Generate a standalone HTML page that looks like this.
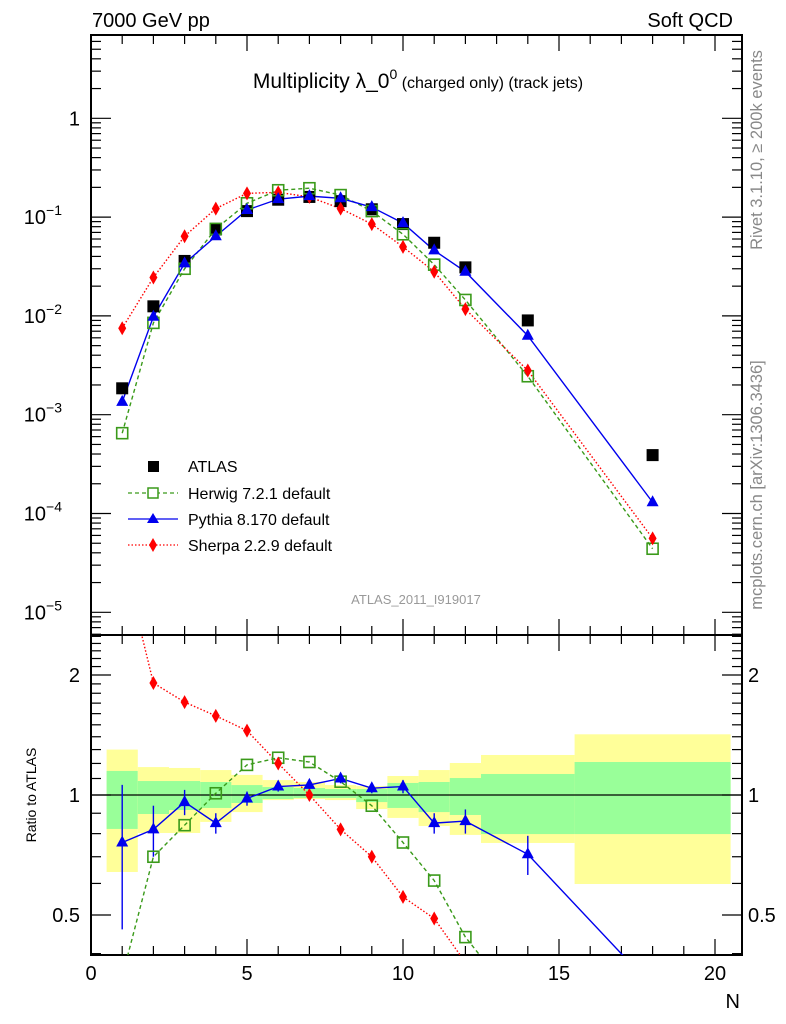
<!DOCTYPE html>
<html><head><meta charset="utf-8">
<style>
html,body{margin:0;padding:0;background:#fff;width:786px;height:1024px;overflow:hidden;}
svg{display:block;font-family:"Liberation Sans",sans-serif;}
</style></head>
<body>
<svg id="chart" width="786" height="1024" viewBox="0 0 786 1024" xmlns="http://www.w3.org/2000/svg">
<g id="bands"></g>
<g id="grid"></g>
<g id="series"></g>
<text x="92" y="27" font-size="20">7000 GeV pp</text>
<text x="733" y="27" font-size="20" text-anchor="end">Soft QCD</text>
<text x="418" y="88" font-size="21" text-anchor="middle">Multiplicity λ_0<tspan dy="-9" font-size="14">0</tspan><tspan dy="9" font-size="16"> (charged only) (track jets)</tspan></text>
<text x="416" y="604" font-size="13" fill="#999" text-anchor="middle">ATLAS_2011_I919017</text>
<text transform="translate(762,150) rotate(-90)" font-size="16.5" fill="#888" text-anchor="middle">Rivet 3.1.10, ≥ 200k events</text>
<text transform="translate(762,485) rotate(-90)" font-size="16.5" fill="#888" text-anchor="middle">mcplots.cern.ch [arXiv:1306.3436]</text>
<text transform="translate(36,795) rotate(-90)" font-size="14" text-anchor="middle">Ratio to ATLAS</text>
<text x="740" y="1008" font-size="20" text-anchor="end">N</text>
<g>
<rect x="148" y="461" width="11" height="11" fill="#000"/>
<text x="188" y="472" font-size="16">ATLAS</text>
<line x1="128" y1="493" x2="178" y2="493" stroke="#3a9a1a" stroke-width="1.3" stroke-dasharray="4,3"/>
<rect x="148" y="488" width="10" height="10" fill="#fff" stroke="#3a9a1a" stroke-width="1.5"/>
<text x="188" y="499" font-size="16">Herwig 7.2.1 default</text>
<line x1="128" y1="519" x2="178" y2="519" stroke="#0000ee" stroke-width="1.3"/>
<polygon points="153,513 159,523 147,523" fill="#0000ee"/>
<text x="188" y="525" font-size="16">Pythia 8.170 default</text>
<line x1="128" y1="545" x2="178" y2="545" stroke="#ff0000" stroke-width="1.3" stroke-dasharray="1.5,2"/>
<polygon points="153,538 157,545 153,552 149,545" fill="#ff0000"/>
<text x="188" y="551" font-size="16">Sherpa 2.2.9 default</text>
</g>
</svg>
<script>
const xs = [1,2,3,4,5,6,7,8,9,10,11,12,14,18];
const atlas = [1.85e-3,1.25e-2,3.6e-2,7.5e-2,0.115,0.15,0.16,0.145,0.12,0.085,0.055,0.031,9e-3,3.9e-4];
const herwig = [6.5e-4,8.5e-3,0.030,0.076,0.138,0.187,0.196,0.167,0.115,0.067,0.033,0.0145,2.45e-3,4.4e-5];
const pythia = [1.35e-3,0.0098,0.034,0.064,0.118,0.152,0.163,0.155,0.126,0.087,0.046,0.028,6.3e-3,1.3e-4];
const sherpa = [7.5e-3,0.0245,0.064,0.122,0.174,0.178,0.16,0.122,0.085,0.05,0.028,0.0117,2.8e-3,5.6e-5];
const herwigRatio = [0.35,0.70,0.84,1.01,1.19,1.24,1.21,1.08,0.94,0.76,0.61,0.44,0.28,0.115];
const pythiaRatio = [0.76,0.82,0.96,0.85,0.98,1.05,1.06,1.10,1.04,1.05,0.85,0.86,0.71,0.33];
const pythiaRatioErr = [0.3,0.12,0.07,0.05,0.04,0.03,0.03,0.03,0.03,0.04,0.05,0.06,0.08,0.05];
const sherpaRatio = [4.0,1.91,1.71,1.58,1.45,1.20,1.00,0.82,0.70,0.555,0.49,0.38,0.31,0.14];
const binEdges = [0.5,1.5,2.5,3.5,4.5,5.5,6.5,7.5,8.5,9.5,10.5,11.5,12.5,15.5,20.5];
const yelUp = [1.30,1.175,1.169,1.155,1.123,1.09,1.078,1.059,1.053,1.116,1.155,1.203,1.26,1.42];
const yelDn = [0.641,0.803,0.803,0.856,0.906,0.971,0.977,0.971,0.922,0.876,0.836,0.794,0.758,0.598];
const grnUp = [1.149,1.084,1.084,1.078,1.059,1.047,1.041,1.035,1.035,1.072,1.078,1.103,1.129,1.21];
const grnDn = [0.822,0.896,0.917,0.928,0.955,0.977,0.983,0.983,0.960,0.928,0.906,0.891,0.798,0.798];
const xTicks = [0,5,10,15,20];
const yTopTicks = [0,-1,-2,-3,-4,-5];
const yTopLabels = ["1","10","10","10","10","10"];
const yTopExp = ["","−1","−2","−3","−4","−5"];
const rTicks = [0.5,1,2];
const rLabels = ["0.5","1","2"];

const NS="http://www.w3.org/2000/svg";
const L=91, R=742, T=35, MID=635, B=955;
const X = v => L + v*31.2;
const Y = v => 118.3 - Math.log10(v)*98.8;
const YR = v => 795 - Math.log10(v)*398.6;
function mk(tag, attrs, parent){const e=document.createElementNS(NS,tag);for(const k in attrs)e.setAttribute(k,attrs[k]);parent.appendChild(e);return e;}
const gB=document.getElementById('bands'), gG=document.getElementById('grid'), gS=document.getElementById('series');

const defs=mk('defs',{},gS);
const c1=mk('clipPath',{id:'ctop'},defs); mk('rect',{x:L,y:T,width:R-L,height:MID-T},c1);
const c2=mk('clipPath',{id:'cbot'},defs); mk('rect',{x:L,y:MID,width:R-L,height:B-MID},c2);

for(let i=0;i<yelUp.length;i++){
  const x1=X(binEdges[i]), x2=X(binEdges[i+1]);
  const y1=mk('rect',{x:x1,y:YR(yelUp[i]),width:x2-x1,height:YR(yelDn[i])-YR(yelUp[i]),fill:'#ffff99'},gB);
  
  
  const g1=mk('rect',{x:x1,y:YR(grnUp[i]),width:x2-x1,height:YR(grnDn[i])-YR(grnUp[i]),fill:'#99ff99'},gB);
  
  
}
mk('line',{x1:L,y1:YR(1),x2:R,y2:YR(1),stroke:'#000','stroke-width':1.2},gG);

mk('rect',{x:L,y:T,width:R-L,height:MID-T,fill:'none',stroke:'#000','stroke-width':2},gG);
mk('rect',{x:L,y:MID,width:R-L,height:B-MID,fill:'none',stroke:'#000','stroke-width':2},gG);

for(let v=0; v<=20.8; v+=0.5){
  const maj = Math.abs(v%5)<1e-9, mid=Math.abs(v%1)<1e-9;
  const len = maj?16:(mid?9:0); if(!len) continue;
  const x=X(v);
  for(const [y,d] of [[T,1],[MID,-1],[MID,1],[B,-1]]) mk('line',{x1:x,y1:y,x2:x,y2:y+d*len,stroke:'#000','stroke-width':1.2},gG);
}
xTicks.forEach(v=>{const t=mk('text',{x:X(v),y:980,'font-size':20,'text-anchor':'middle'},gG);t.textContent=String(v);
  
  });

for(let d=-6; d<=1; d++){
  for(let m=1;m<10;m++){
    const v=m*Math.pow(10,d); const y=Y(v); if(y<T||y>MID) continue;
    const len=m===1?20:10;
    mk('line',{x1:L,y1:y,x2:L+len,y2:y,stroke:'#000','stroke-width':1.2},gG);
    mk('line',{x1:R,y1:y,x2:R-len,y2:y,stroke:'#000','stroke-width':1.2},gG);
  }
}
yTopTicks.forEach((d,i)=>{
  const t=mk('text',{x:yTopExp[i]?62:80,y:Y(Math.pow(10,d))+7,'font-size':20,'text-anchor':'end'},gG);
  t.textContent=yTopLabels[i];
  
  
  if(yTopExp[i]){const s=mk('tspan',{dy:-9,'font-size':14},t);s.textContent=yTopExp[i];}
});
for(let v=0.4; v<=2.6; v+=0.1){
  const y=YR(v); if(y<MID||y>B) continue;
  const maj=[0.5,1,2].some(m=>Math.abs(m-v)<1e-6);
  const len=maj?20:10;
  mk('line',{x1:L,y1:y,x2:L+len,y2:y,stroke:'#000','stroke-width':1.2},gG);
  mk('line',{x1:R,y1:y,x2:R-len,y2:y,stroke:'#000','stroke-width':1.2},gG);
}
rTicks.forEach((v,i)=>{
  for(const [x,a] of [[80,'end'],[748,'start']]){
    const t=mk('text',{x:x,y:YR(v)+7,'font-size':20,'text-anchor':a},gG);t.textContent=rLabels[i];
    
    
  }
});

function line(vals, yf, color, dash, clip, name){
  const p=mk('polyline',{points:xs.map((x,i)=>X(x)+','+yf(vals[i])).join(' '),fill:'none',stroke:color,'stroke-width':1.4,'stroke-dasharray':dash,'clip-path':'url(#'+clip+')'},gS);
  
  
}
function markers(vals, yf, type, clip, name){
  const g=mk('g',{'clip-path':'url(#'+clip+')'},gS);
  
  
  xs.forEach((x,i)=>{
    const cx=X(x), cy=yf(vals[i]);
    if(type==='sq') mk('rect',{x:cx-6,y:cy-6,width:12,height:12,fill:'#000'},g);
    if(type==='osq') mk('rect',{x:cx-5.5,y:cy-5.5,width:11,height:11,fill:'#fff','fill-opacity':0,stroke:'#3a9a1a','stroke-width':1.6},g);
    if(type==='tri') mk('polygon',{points:`${cx},${cy-7} ${cx+6},${cy+4} ${cx-6},${cy+4}`,fill:'#0000ee'},g);
    if(type==='dia') mk('polygon',{points:`${cx},${cy-7} ${cx+4},${cy} ${cx},${cy+7} ${cx-4},${cy}`,fill:'#ff0000'},g);
  });
}
line(herwig,Y,'#3a9a1a','4,3','ctop','herwig-line');
line(sherpa,Y,'#ff0000','1.5,2','ctop','sherpa-line');
line(pythia,Y,'#0000ee','','ctop','pythia-line');
markers(atlas,Y,'sq','ctop','atlas-points');
markers(herwig,Y,'osq','ctop','herwig-points');
markers(sherpa,Y,'dia','ctop','sherpa-points');
markers(pythia,Y,'tri','ctop','pythia-points');
line(herwigRatio,YR,'#3a9a1a','4,3','cbot','herwig-ratio-line');
line(sherpaRatio,YR,'#ff0000','1.5,2','cbot','sherpa-ratio-line');
line(pythiaRatio,YR,'#0000ee','','cbot','pythia-ratio-line');
const eg=mk('g',{'clip-path':'url(#cbot)'},gS);
xs.forEach((x,i)=>{
  const cx=X(x);
  mk('line',{x1:cx,y1:YR(pythiaRatio[i]+pythiaRatioErr[i]),x2:cx,y2:YR(Math.max(0.05,pythiaRatio[i]-pythiaRatioErr[i])),stroke:'#0000ee','stroke-width':1.4},eg);
});
markers(herwigRatio,YR,'osq','cbot','herwig-ratio-points');
markers(sherpaRatio,YR,'dia','cbot','sherpa-ratio-points');
markers(pythiaRatio,YR,'tri','cbot','pythia-ratio-points');
</script>
</body></html>
